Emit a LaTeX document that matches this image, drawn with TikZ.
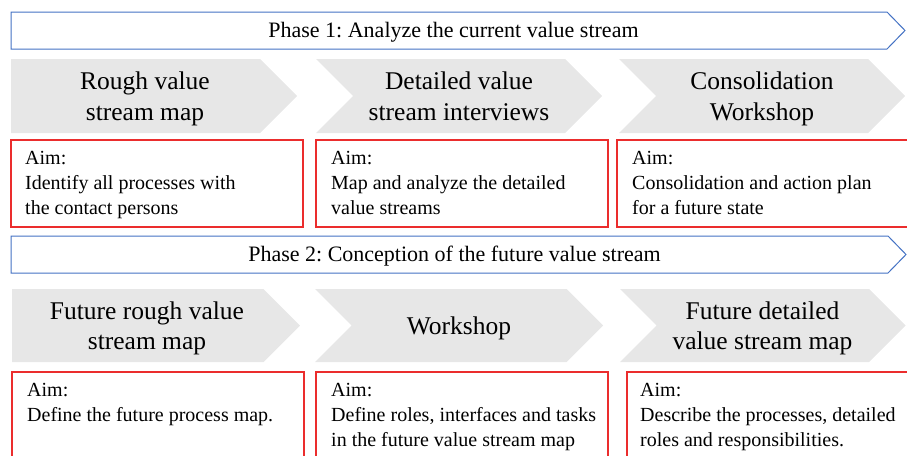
\documentclass[tikz,border=0pt]{standalone}
\usepackage{fontspec}
\setmainfont{Liberation Serif}
\frenchspacing
\definecolor{phaseblue}{RGB}{68,114,196}
\definecolor{stepgray}{RGB}{231,231,231}
\definecolor{aimred}{RGB}{235,45,45}
\begin{document}
\begin{tikzpicture}[x=1pt,y=-1pt,
  phase/.style={draw=phaseblue,line width=1pt,fill=white,line join=miter},
  stepshape/.style={fill=stepgray,draw=none},
  aimbox/.style={draw=aimred,line width=1.2pt},
  phasetext/.style={font=\fontsize{22}{26}\selectfont,anchor=base,inner sep=0pt},
  steptext/.style={font=\fontsize{25.5}{30.5}\selectfont,align=center,inner sep=0pt},
  aimtext/.style={font=\fontsize{20}{25}\selectfont,align=left,anchor=north west,inner sep=0pt},
]
\useasboundingbox (0,0) rectangle (907,455);
\clip (0,0) rectangle (907,455);

% ---------- Phase 1 ----------
\draw[phase] (11,12) -- (887,12) -- (905,30.5) -- (887,49) -- (11,49) -- cycle;
\node[phasetext] (phaseA) at (453.5,37.8) {Phase 1: Analyze the current value stream};

% step chevrons
\fill[stepshape] (11,59) -- (260,59) -- (297,96) -- (260,133) -- (11,133) -- cycle;
\fill[stepshape] (316,59) -- (565,59) -- (602,96) -- (565,133) -- (316,133) -- (353,96) -- cycle;
\fill[stepshape] (619,59) -- (868,59) -- (905,96) -- (868,133) -- (619,133) -- (656,96) -- cycle;
\node[steptext] (a1) at (145,99) {\strut Rough value\\\strut stream map};
\node[steptext] (a2) at (459,99) {\strut Detailed value\\\strut stream interviews};
\node[steptext] (a3) at (762,99) {\strut Consolidation\\\strut Workshop};

% aims
\draw[aimbox] (11,140) rectangle (303,227);
\draw[aimbox] (316,140) rectangle (608,227);
\draw[aimbox] (617,140) rectangle (912,227);
\node[aimtext] (aimA1) at (25,146.5) {\strut Aim:\\\strut Identify all processes with\\\strut the contact persons};
\node[aimtext] (aimA2) at (331,146.5) {\strut Aim:\\\strut Map and analyze the detailed\\\strut value streams};
\node[aimtext] (aimA3) at (632,146.5) {\strut Aim:\\\strut Consolidation and action plan\\\strut for a future state};

% ---------- Phase 2 ----------
\draw[phase] (11,236) -- (888,236) -- (906,254.5) -- (888,273) -- (11,273) -- cycle;
\node[phasetext] (phaseB) at (454.5,261.8) {Phase 2: Conception of the future value stream};

\fill[stepshape] (12,289) -- (263.5,289) -- (300,325.5) -- (263.5,362) -- (12,362) -- cycle;
\fill[stepshape] (315,289) -- (566.5,289) -- (603,325.5) -- (566.5,362) -- (315,362) -- (351.5,325.5) -- cycle;
\fill[stepshape] (620,289) -- (869,289) -- (905.5,325.5) -- (869,362) -- (620,362) -- (656.5,325.5) -- cycle;
\node[steptext] (b1) at (147,328.5) {\strut Future rough value\\\strut stream map};
\node[steptext] (b2) at (459,328.5) {\strut Workshop};
\node[steptext] (b3) at (762.5,328.5) {\strut Future detailed\\\strut value stream map};

\draw[aimbox] (12,372) rectangle (304,470);
\draw[aimbox] (316,372) rectangle (608,470);
\draw[aimbox] (627,372) rectangle (912,470);
\node[aimtext] (aimB1) at (27,378.5) {\strut Aim:\\\strut Define the future process map.};
\node[aimtext] (aimB2) at (331,378.5) {\strut Aim:\\\strut Define roles, interfaces and tasks\\\strut in the future value stream map};
\node[aimtext] (aimB3) at (640,378.5) {\strut Aim:\\\strut Describe the processes, detailed\\\strut roles and responsibilities.};
\end{tikzpicture}
\end{document}
